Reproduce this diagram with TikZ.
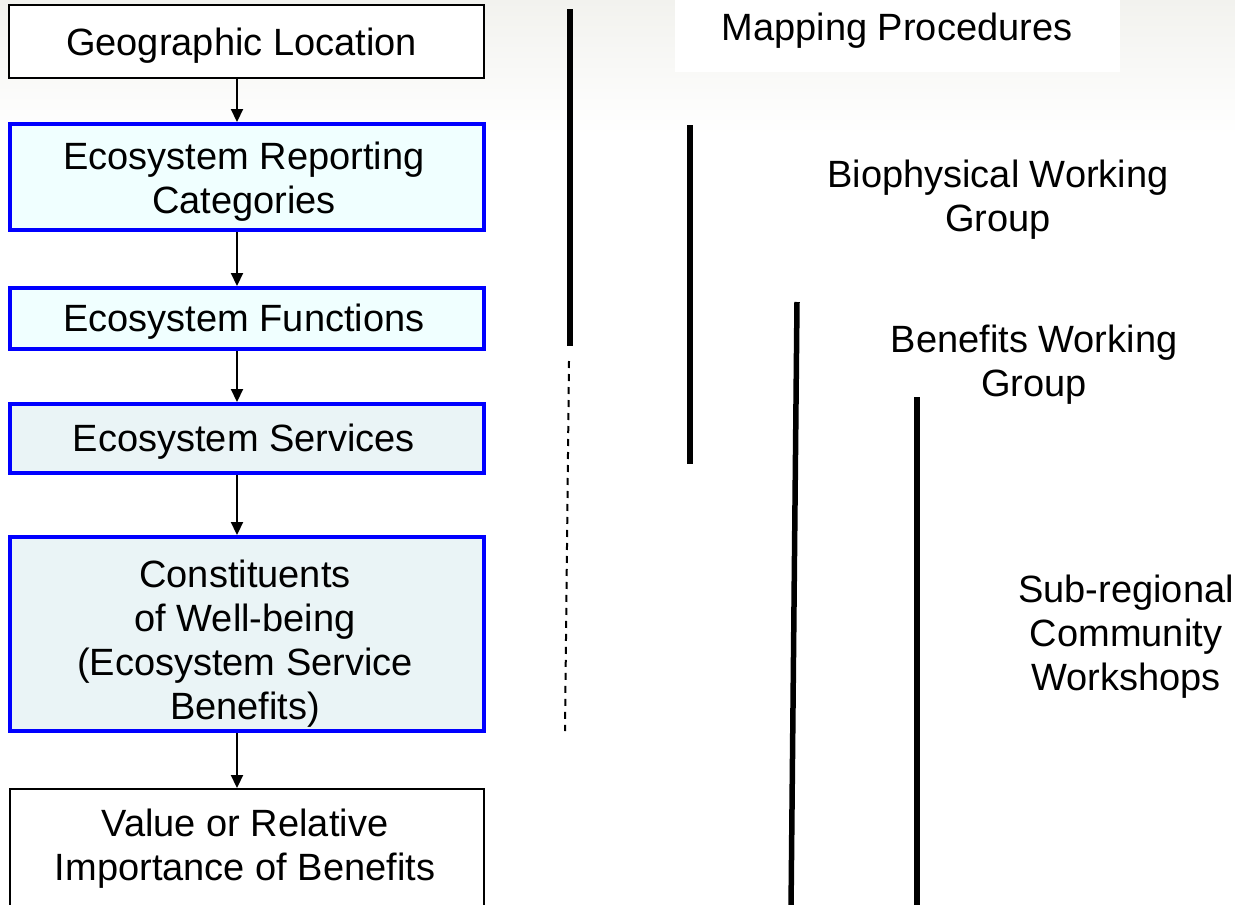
\documentclass[tikz,border=0pt]{standalone}
\usepackage{fontspec}
\setmainfont{Liberation Sans}
\usetikzlibrary{arrows.meta,calc}
\definecolor{bluebd}{HTML}{0000FF}
\definecolor{fillA}{HTML}{F0FFFF}
\definecolor{fillB}{HTML}{EAF4F6}
\definecolor{bgtop}{HTML}{F2F2EE}
\tikzset{
  x=1pt, y=-1pt,
  basebox/.style={rectangle, inner sep=0pt},
  plainbox/.style={basebox, draw=black, line width=1.6pt, fill=white},
  bluebox/.style={basebox, draw=bluebd, line width=4pt},
  txt/.style={inner sep=0pt, align=center, font=\fontsize{38}{44}\selectfont, text=black},
  flow/.style={draw=black, line width=2.2pt, -{Triangle[length=13pt,width=12pt]}},
  bar/.style={draw=black, line width=5.5pt},
}
\begin{document}
\begin{tikzpicture}
\useasboundingbox (0,0) rectangle (1235,905);
\clip (0,0) rectangle (1235,905);
\fill[white] (0,0) rectangle (1235,905);
\shade[top color=bgtop, bottom color=white] (0,0) rectangle (1235,135);
\fill[white] (675,0) rectangle (1120,72);

% left flow chart
\node[plainbox, minimum width=475, minimum height=73] (geo) at (246.5,41.5) {};
\node[txt] (geotxt) at ($(geo.center)+(-5,4)$) {Geographic Location};
\node[bluebox, fill=fillA, minimum width=474, minimum height=106] (rep) at (247,177) {};
\node[txt] (reptxt) at ($(rep.center)+(-3,5)$) {Ecosystem Reporting\\Categories};
\node[bluebox, fill=fillA, minimum width=474, minimum height=61] (fun) at (247,318.5) {};
\node[txt] (funtxt) at ($(fun.center)+(-3,3)$) {Ecosystem Functions};
\node[bluebox, fill=fillB, minimum width=474, minimum height=69] (ser) at (247,438.5) {};
\node[txt] (sertxt) at ($(ser.center)+(-3,3)$) {Ecosystem Services};
\node[bluebox, fill=fillB, minimum width=474, minimum height=194] (con) at (247,634) {};
\node[txt] (contxt) at ($(con.center)+(-2,10)$) {Constituents\\of Well-being\\(Ecosystem Service\\Benefits)};
\node[plainbox, minimum width=474, minimum height=140, anchor=north] (val) at (247,788) {};
\node[txt] (valtxt) at (245,849) {Value or Relative\\Importance of Benefits};

\coordinate (ax) at (237,0);
\draw[flow] (geo.south -| ax) -- (rep.north -| ax);
\draw[flow] (rep.south -| ax) -- (fun.north -| ax);
\draw[flow] (fun.south -| ax) -- (ser.north -| ax);
\draw[flow] (ser.south -| ax) -- (con.north -| ax);
\draw[flow] (con.south -| ax) -- (val.north -| ax);

% right side: bars and labels
\draw[bar] (570,9) -- (570,346);
\draw[black, line width=2pt, dash pattern=on 7pt off 6pt] (569,361) -- (565,731);
\node[txt] (map) at (897,31) {Mapping Procedures};

\draw[bar] (690,125) -- (690,464);
\node[txt] (bio) at (998,200) {Biophysical Working\\Group};

\draw[bar] (797,302) -- (791,910);
\node[txt] (ben) at (1034,365) {Benefits Working\\Group};

\draw[bar] (917,397) -- (917,910);
\node[txt] (sub) at (1126,637) {Sub-regional\\Community\\Workshops};
\end{tikzpicture}
\end{document}
